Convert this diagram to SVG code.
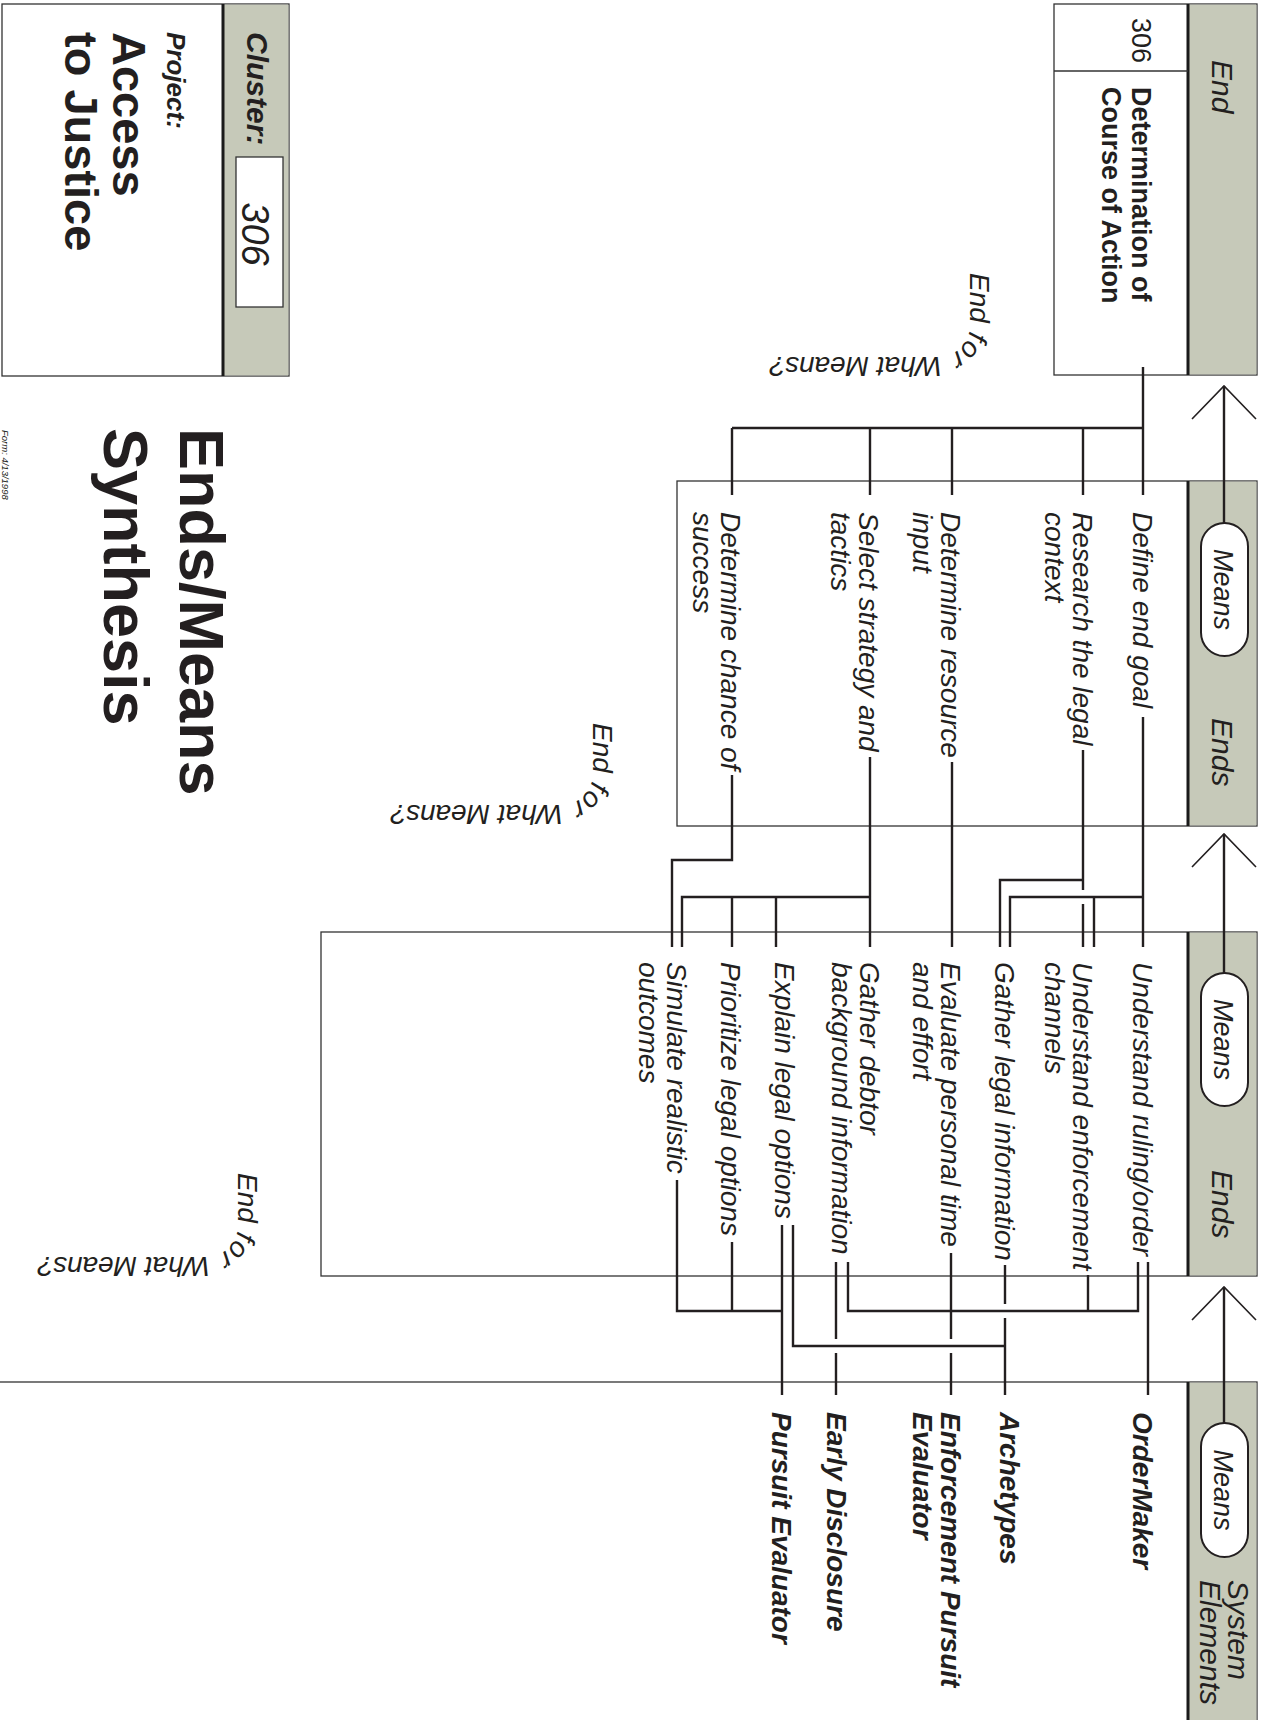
<svg xmlns="http://www.w3.org/2000/svg" width="1272" height="1720" viewBox="0 0 1272 1720">
<defs>
<style>
text{font-family:"Liberation Sans",Arial,Helvetica,sans-serif;fill:#231f20}
.box{fill:#fff;stroke:#333;stroke-width:1.3}
.band{fill:#c6c9b9}
.thick{stroke:#1a1a1a;stroke-width:3}
.thin{stroke:#333;stroke-width:1.3}
.ln{fill:none;stroke:#231f20;stroke-width:2.4}
.chev{fill:none;stroke:#231f20;stroke-width:1.6}
.pill{fill:#fff;stroke:#231f20;stroke-width:2}
.node{font-size:28px;font-style:italic}
.sys{font-size:28px;font-style:italic;font-weight:bold}
.hdr{font-size:30px;font-style:italic}
.means{font-size:27px;font-style:italic}
.efwm{font-size:28px;font-style:italic}
</style>
<path id="arc1" d="M970 273 V325 A32 32 0 0 1 938 357 H700"/>
<path id="arc2" d="M593 723 V773 A32 32 0 0 1 561 805 H300"/>
<path id="arc3" d="M238 1173 V1225 A32 32 0 0 1 206 1257 H0"/>
</defs>

<g id="panels">
  <g id="panel-end">
    <rect class="box" x="1054" y="4" width="203" height="371"/>
    <rect class="band" x="1189" y="4.6" width="67.4" height="369.8"/>
    <line class="thick" x1="1188" y1="4" x2="1188" y2="375"/>
    <line class="thin" x1="1054" y1="71" x2="1188" y2="71"/>
    <text class="hdr" transform="translate(1212,60) rotate(90)">End</text>
  </g>
  <g id="panel-ends1">
    <rect class="box" x="677" y="481" width="580" height="345"/>
    <rect class="band" x="1189" y="481.6" width="67.4" height="343.8"/>
    <line class="thick" x1="1188" y1="481" x2="1188" y2="826"/>
    <rect class="pill" x="1201" y="523" width="47" height="133" rx="23.5"/>
    <text class="means" text-anchor="middle" transform="translate(1214,589.5) rotate(90)">Means</text>
    <text class="hdr" transform="translate(1212,718) rotate(90)">Ends</text>
  </g>
  <g id="panel-ends2">
    <rect class="box" x="321" y="932" width="936" height="344"/>
    <rect class="band" x="1189" y="932.6" width="67.4" height="342.8"/>
    <line class="thick" x1="1188" y1="932" x2="1188" y2="1276"/>
    <rect class="pill" x="1201" y="973" width="47" height="133" rx="23.5"/>
    <text class="means" text-anchor="middle" transform="translate(1214,1039.5) rotate(90)">Means</text>
    <text class="hdr" transform="translate(1212,1170) rotate(90)">Ends</text>
  </g>
  <g id="panel-system">
    <rect class="box" x="-2" y="1382" width="1259" height="350"/>
    <rect class="band" x="1189" y="1382.6" width="67.4" height="340"/>
    <line class="thick" x1="1188" y1="1382" x2="1188" y2="1720"/>
    <rect class="pill" x="1201" y="1423" width="47" height="134" rx="23.5"/>
    <text class="means" text-anchor="middle" transform="translate(1214,1490) rotate(90)">Means</text>
    <text class="hdr" transform="translate(1200,1580) rotate(90)"><tspan x="0" y="-28">System</tspan><tspan x="0" y="0">Elements</tspan></text>
  </g>
  <g id="panel-cluster">
    <rect class="box" x="2" y="4" width="287" height="372"/>
    <rect class="band" x="223" y="4.6" width="65.4" height="370.8"/>
    <line class="thick" x1="223" y1="4" x2="223" y2="376"/>
    <text transform="translate(247,32) rotate(90)" style="font-size:30px;font-style:italic;font-weight:bold">Cluster:</text>
    <rect x="236" y="157" width="47" height="150" fill="#fff" stroke="#333" stroke-width="1.3"/>
    <text text-anchor="middle" transform="translate(242,234) rotate(90)" style="font-size:38px;font-style:italic">306</text>
    <text transform="translate(167,32) rotate(90)" style="font-size:26px;font-style:italic;font-weight:bold">Project:</text>
    <text transform="translate(113,32) rotate(90)" style="font-size:47px;font-weight:bold"><tspan x="0" y="0">Access</tspan><tspan x="0" y="48">to Justice</tspan></text>
  </g>
</g>

<g id="title">
  <text transform="translate(180,428) rotate(90)" style="font-size:63px;font-weight:bold"><tspan x="0" y="0">Ends/Means</tspan><tspan x="0" y="76">Synthesis</tspan></text>
  <text transform="translate(2,430) rotate(90)" style="font-size:9.5px;font-style:italic">Form: 4/13/1998</text>
</g>

<g id="end-for-what-means">
  <text class="efwm"><textPath href="#arc1">End for What Means?</textPath></text>
  <text class="efwm"><textPath href="#arc2">End for What Means?</textPath></text>
  <text class="efwm"><textPath href="#arc3">End for What Means?</textPath></text>
</g>

<g id="connectors">
  <polyline class="chev" points="1192,419 1224,386 1256,419"/>
  <polyline class="chev" points="1192,867 1224,834 1256,867"/>
  <polyline class="chev" points="1192,1320 1224,1287 1256,1320"/>
  <path class="ln" d="M1224 386 V523 M1224 834 V973 M1224 1287 V1423"/>
  <path class="ln" d="M1143 367 V495 M732 428 H1143 M1083 428 V495 M952 428 V495 M870 428 V495 M732 428 V495"/>
  <path class="ln" d="M1143 717 V947 M1010 947 V897 H1143 M1094 897 V947 M1083 750 V890 M1083 904 V947 M1000 947 V880 H1083 M952 762 V947 M870 757 V947 M682 947 V897 H870 M732 897 V947 M776 897 V947 M732 775 V860 H672 V947"/>
  <path class="ln" d="M1148 1262 V1395 M1138 1262 V1311 H848 V1262 M1088 1275 V1311 M1005 1265 V1304 M1005 1318 V1395 M951 1253 V1339 M951 1353 V1395 M836 1262 V1339 M836 1353 V1395 M782 1225 V1395 M793 1225 V1346 H1005 M732 1242 V1311 M677 1180 V1311 H782"/>
</g>

<g id="n-306"><text transform="translate(1132,18) rotate(90)" style="font-size:27px">306</text></g>
<g id="n-determination"><text transform="translate(1132,87) rotate(90)" style="font-size:27px;font-weight:bold"><tspan x="0" y="0">Determination of</tspan><tspan x="0" y="30">Course of Action</tspan></text></g>

<g id="n-define"><text class="node" transform="translate(1133,512) rotate(90)">Define end goal</text></g>
<g id="n-research"><text class="node" transform="translate(1073,512) rotate(90)"><tspan x="0" y="0">Research the legal</tspan><tspan x="0" y="28.5">context</tspan></text></g>
<g id="n-resource"><text class="node" transform="translate(941,512) rotate(90)"><tspan x="0" y="0">Determine resource</tspan><tspan x="0" y="28.5">input</tspan></text></g>
<g id="n-strategy"><text class="node" transform="translate(859,512) rotate(90)"><tspan x="0" y="0">Select strategy and</tspan><tspan x="0" y="28.5">tactics</tspan></text></g>
<g id="n-chance"><text class="node" transform="translate(721,512) rotate(90)"><tspan x="0" y="0">Determine chance of</tspan><tspan x="0" y="28.5">success</tspan></text></g>

<g id="n-ruling"><text class="node" transform="translate(1133,962) rotate(90)">Understand ruling/order</text></g>
<g id="n-enforcement"><text class="node" transform="translate(1073,962) rotate(90)"><tspan x="0" y="0">Understand enforcement</tspan><tspan x="0" y="28.5">channels</tspan></text></g>
<g id="n-legalinfo"><text class="node" transform="translate(995,962) rotate(90)">Gather legal information</text></g>
<g id="n-personal"><text class="node" transform="translate(941,962) rotate(90)"><tspan x="0" y="0">Evaluate personal time</tspan><tspan x="0" y="28.5">and effort</tspan></text></g>
<g id="n-debtor"><text class="node" transform="translate(860,962) rotate(90)"><tspan x="0" y="0">Gather debtor</tspan><tspan x="0" y="28.5">background information</tspan></text></g>
<g id="n-explain"><text class="node" transform="translate(775,962) rotate(90)">Explain legal options</text></g>
<g id="n-prioritize"><text class="node" transform="translate(721,962) rotate(90)">Prioritize legal options</text></g>
<g id="n-simulate"><text class="node" transform="translate(667,962) rotate(90)"><tspan x="0" y="0">Simulate realistic</tspan><tspan x="0" y="28.5">outcomes</tspan></text></g>

<g id="n-ordermaker"><text class="sys" transform="translate(1133,1412) rotate(90)">OrderMaker</text></g>
<g id="n-archetypes"><text class="sys" transform="translate(1000,1412) rotate(90)">Archetypes</text></g>
<g id="n-epe"><text class="sys" transform="translate(941,1412) rotate(90)"><tspan x="0" y="0">Enforcement Pursuit</tspan><tspan x="0" y="28.5">Evaluator</tspan></text></g>
<g id="n-early"><text class="sys" transform="translate(827,1412) rotate(90)">Early Disclosure</text></g>
<g id="n-pursuit"><text class="sys" transform="translate(772,1412) rotate(90)">Pursuit Evaluator</text></g>
</svg>
